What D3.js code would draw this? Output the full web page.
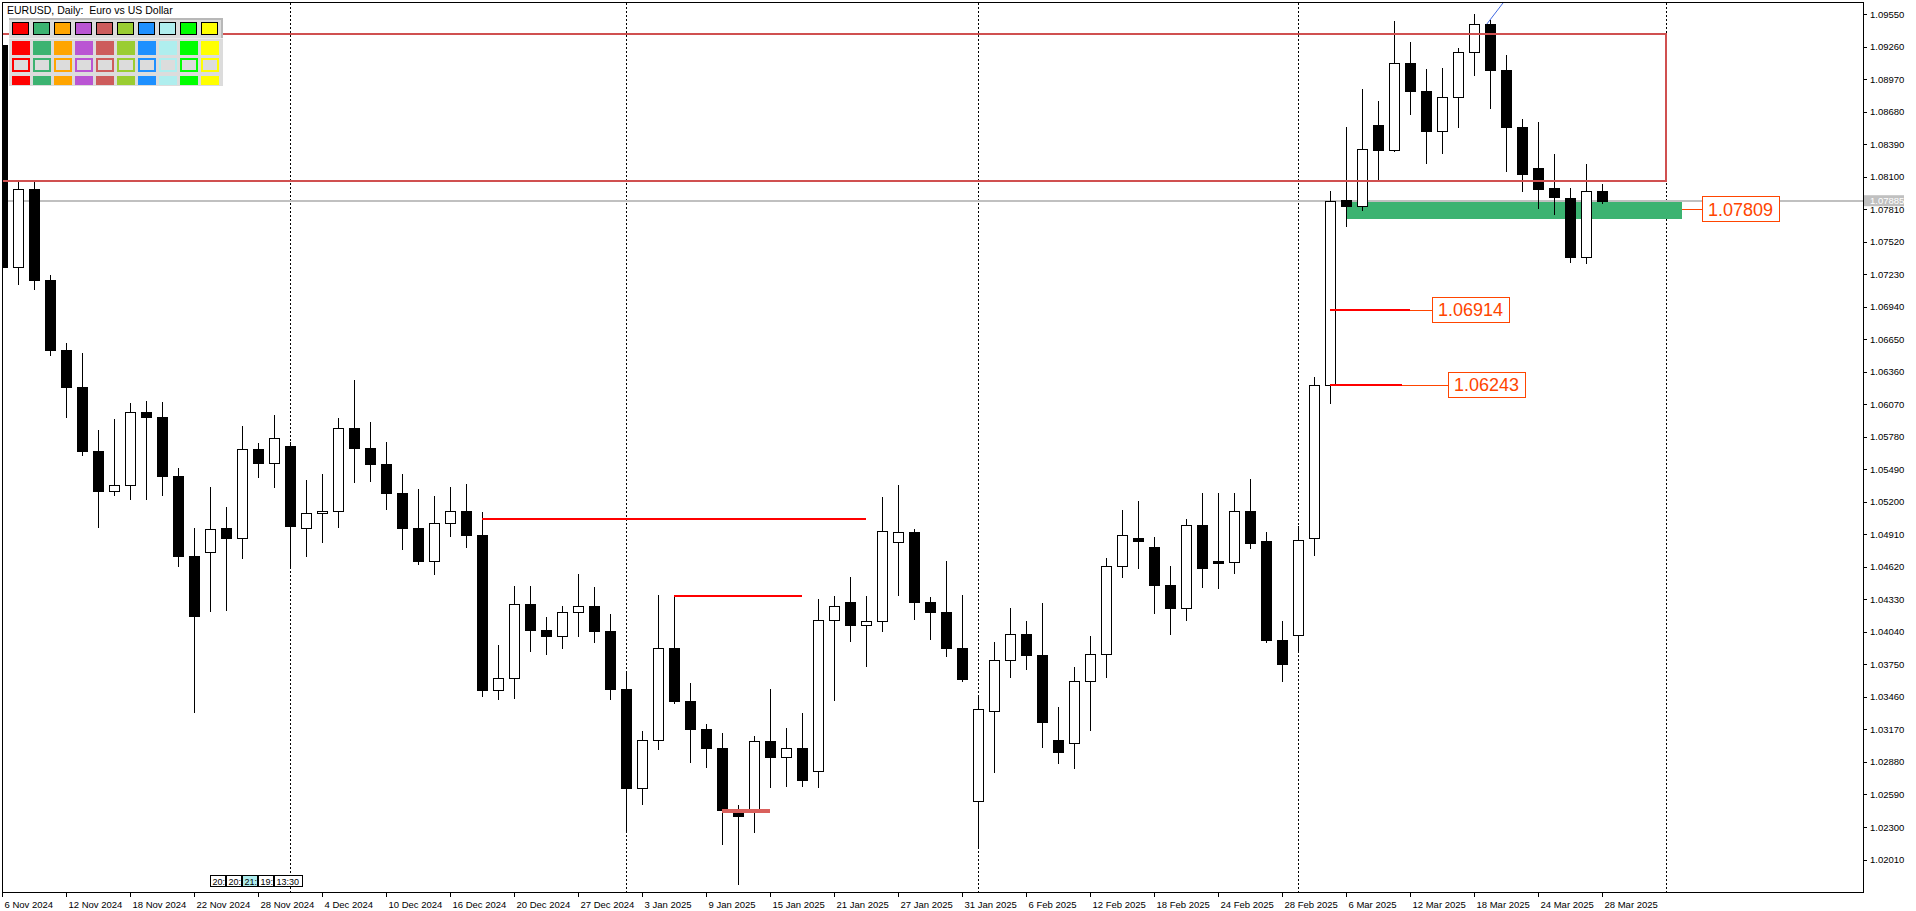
<!DOCTYPE html>
<html><head><meta charset="utf-8">
<script src="https://cdn.jsdelivr.net/npm/d3@7"></script>
<style>html,body{margin:0;padding:0;background:#fff;overflow:hidden}</style>
</head><body>
<svg id="chart" width="1916" height="911"></svg>
<script>
// ---------------- DATA ----------------
const title = "EURUSD, Daily:  Euro vs US Dollar";
const dates = ["2024-11-06","2024-11-07","2024-11-08","2024-11-11","2024-11-12","2024-11-13","2024-11-14","2024-11-15","2024-11-18","2024-11-19",
"2024-11-20","2024-11-21","2024-11-22","2024-11-25","2024-11-26","2024-11-27","2024-11-28","2024-11-29","2024-12-02","2024-12-03",
"2024-12-04","2024-12-05","2024-12-06","2024-12-09","2024-12-10","2024-12-11","2024-12-12","2024-12-13","2024-12-16","2024-12-17",
"2024-12-18","2024-12-19","2024-12-20","2024-12-23","2024-12-24","2024-12-26","2024-12-27","2024-12-30","2024-12-31","2025-01-02",
"2025-01-03","2025-01-06","2025-01-07","2025-01-08","2025-01-09","2025-01-10","2025-01-13","2025-01-14","2025-01-15","2025-01-16",
"2025-01-17","2025-01-20","2025-01-21","2025-01-22","2025-01-23","2025-01-24","2025-01-27","2025-01-28","2025-01-29","2025-01-30",
"2025-01-31","2025-02-03","2025-02-04","2025-02-05","2025-02-06","2025-02-07","2025-02-10","2025-02-11","2025-02-12","2025-02-13",
"2025-02-14","2025-02-17","2025-02-18","2025-02-19","2025-02-20","2025-02-21","2025-02-24","2025-02-25","2025-02-26","2025-02-27",
"2025-02-28","2025-03-03","2025-03-04","2025-03-05","2025-03-06","2025-03-07","2025-03-10","2025-03-11","2025-03-12","2025-03-13",
"2025-03-14","2025-03-17","2025-03-18","2025-03-19","2025-03-20","2025-03-21","2025-03-24","2025-03-25","2025-03-26","2025-03-27",
"2025-03-28"];
const openP = [1.0927,1.0729,1.0799,1.0718,1.0655,1.0622,1.0565,1.0530,1.0535,1.0600,
1.0596,1.0543,1.0472,1.0475,1.0497,1.0488,1.0567,1.0555,1.0570,1.0497,
1.0510,1.0512,1.0586,1.0568,1.0554,1.0528,1.0497,1.0467,1.0501,1.0512,
1.0490,1.0352,1.0363,1.0429,1.0406,1.0400,1.0422,1.0427,1.0405,1.0353,
1.0265,1.0308,1.0390,1.0342,1.0317,1.0300,1.0245,1.0243,1.0307,1.0292,
1.0300,1.0280,1.0415,1.0431,1.0410,1.0414,1.0484,1.0493,1.0431,1.0422,
1.0390,1.0253,1.0333,1.0379,1.0402,1.0383,1.0308,1.0305,1.0360,1.0384,
1.0463,1.0488,1.0480,1.0446,1.0425,1.0499,1.0467,1.0466,1.0512,1.0485,
1.0397,1.0401,1.0488,1.0624,1.0789,1.0784,1.0856,1.0834,1.0911,1.0886,
1.0851,1.0881,1.0921,1.0946,1.0905,1.0854,1.0818,1.0800,1.0791,1.0738,
1.0797];
const highP = [1.0937,1.0805,1.0806,1.0722,1.0662,1.0653,1.0584,1.0594,1.0608,1.0610,
1.0609,1.0550,1.0497,1.0533,1.0515,1.0588,1.0572,1.0597,1.0573,1.0539,
1.0545,1.0595,1.0629,1.0591,1.0573,1.0545,1.0531,1.0525,1.0533,1.0536,
1.0511,1.0392,1.0445,1.0445,1.0417,1.0427,1.0456,1.0444,1.0420,1.0368,
1.0316,1.0437,1.0436,1.0358,1.0322,1.0314,1.0250,1.0311,1.0353,1.0318,
1.0332,1.0433,1.0436,1.0453,1.0436,1.0524,1.0535,1.0496,1.0435,1.0467,
1.0437,1.0348,1.0395,1.0425,1.0414,1.0430,1.0337,1.0373,1.0400,1.0470,
1.0513,1.0521,1.0489,1.0463,1.0505,1.0528,1.0528,1.0528,1.0540,1.0493,
1.0414,1.0498,1.0631,1.0797,1.0854,1.0888,1.0877,1.0949,1.0930,1.0906,
1.0907,1.0925,1.0955,1.0950,1.0918,1.0861,1.0859,1.0830,1.0800,1.0821,
1.0803];
const lowP = [1.0683,1.0713,1.0709,1.0650,1.0595,1.0561,1.0497,1.0525,1.0522,1.0522,
1.0525,1.0462,1.0332,1.0422,1.0423,1.0469,1.0541,1.0532,1.0461,1.0471,
1.0483,1.0497,1.0537,1.0538,1.0513,1.0477,1.0464,1.0455,1.0489,1.0479,
1.0346,1.0343,1.0344,1.0386,1.0383,1.0389,1.0399,1.0394,1.0343,1.0226,
1.0250,1.0299,1.0340,1.0287,1.0283,1.0214,1.0178,1.0225,1.0265,1.0266,
1.0266,1.0265,1.0342,1.0395,1.0373,1.0404,1.0436,1.0415,1.0397,1.0382,
1.0359,1.0211,1.0278,1.0363,1.0370,1.0300,1.0286,1.0282,1.0316,1.0363,
1.0452,1.0460,1.0420,1.0401,1.0414,1.0443,1.0442,1.0456,1.0478,1.0394,
1.0359,1.0385,1.0472,1.0607,1.0765,1.0779,1.0805,1.0832,1.0865,1.0821,
1.0830,1.0853,1.0900,1.0870,1.0814,1.0796,1.0781,1.0776,1.0733,1.0732,
1.0786];
const closeP = [1.0729,1.0799,1.0718,1.0655,1.0622,1.0565,1.0530,1.0535,1.0600,1.0596,
1.0543,1.0472,1.0418,1.0496,1.0488,1.0567,1.0555,1.0577,1.0498,1.0510,
1.0512,1.0586,1.0568,1.0554,1.0528,1.0497,1.0467,1.0501,1.0512,1.0490,
1.0352,1.0363,1.0429,1.0406,1.0400,1.0422,1.0427,1.0405,1.0353,1.0265,
1.0308,1.0390,1.0342,1.0317,1.0300,1.0245,1.0240,1.0307,1.0292,1.0300,
1.0272,1.0415,1.0427,1.0410,1.0414,1.0494,1.0493,1.0431,1.0422,1.0390,
1.0362,1.0335,1.0379,1.0402,1.0383,1.0324,1.0297,1.0360,1.0384,1.0463,
1.0490,1.0485,1.0446,1.0425,1.0499,1.0461,1.0465,1.0512,1.0483,1.0397,
1.0375,1.0486,1.0624,1.07885,1.0784,1.0835,1.0834,1.0911,1.0886,1.0851,
1.0881,1.0921,1.0946,1.0905,1.0854,1.0812,1.0799,1.0792,1.0738,1.0797,
1.07885];
const priceTicks = [1.0955,1.0926,1.0897,1.0868,1.0839,1.0810,1.0781,1.0752,1.0723,1.0694,1.0665,1.0636,1.0607,
1.0578,1.0549,1.0520,1.0491,1.0462,1.0433,1.0404,1.0375,1.0346,1.0317,1.0288,1.0259,1.0230,1.0201];
const dateTickBars = [0,4,8,12,16,20,24,28,32,36,40,44,48,52,56,60,64,68,72,76,80,84,88,92,96,100];
const separatorBars = [18,39,61,81,104];
const bidPrice = 1.07885;
// drawn objects (time in bar index, price)
const zoneRect = {from:-3, to:104, top:1.09372, bottom:1.08063};
const greenZone = {from:84, to:105, top:1.07876, bottom:1.07722};
const hLines = [
  {from:30, to:54, price:1.05043},
  {from:42, to:50, price:1.04356}
];
const thickMark = {from:45, to:48, price:1.02446};
const priceLabels = [
  {text:"1.07809", price:1.07809, lineFrom:null, lineTo:105, boxBar:106.25},
  {text:"1.06914", price:1.06914, lineFrom:83, lineTo:88, boxBar:89.375},
  {text:"1.06243", price:1.06243, lineFrom:83, lineTo:87.5, boxBar:90.375}
];
const trendLine = [{bar:92.8, price:1.0946},{bar:94.2, price:1.0972}];
const paletteColors = ["#ff0000","#3cb371","#ffa500","#ba55d3","#cd5c5c","#9acd32","#1e90ff","#afeeee","#00ff00","#ffff00"];
const timerTexts = ["20:","20:","21:","19:","13:30"];
const timerWidths = [16,16,16,16,29];

// ---------------- CHART ----------------
const svg = d3.select("#chart");
const L = 2.5, R = 1863, T = 2.5, B = 892;
const x = d3.scaleLinear().domain([0,100]).range([2,1602]);
const y = d3.scaleLinear().domain([1.0201,1.0955]).range([859.5,14]);
const cx = i => Math.round(x(i)) + 0.5;
const py = p => Math.round(y(p)) + 0.5;
const FONT = "Liberation Sans, Arial, sans-serif";

svg.append("rect").attr("width",1916).attr("height",911).attr("fill","#fff");
svg.append("defs").append("clipPath").attr("id","clip")
  .append("rect").attr("x",L).attr("y",T).attr("width",R-L).attr("height",B-T);
const g = svg.append("g").attr("clip-path","url(#clip)").attr("shape-rendering","crispEdges");

// period separators
g.selectAll("line.sep").data(separatorBars).join("line")
  .attr("x1",d=>cx(d)).attr("x2",d=>cx(d)).attr("y1",T).attr("y2",B)
  .attr("stroke","#000").attr("stroke-dasharray","2,2");

// green zone
g.append("rect").attr("x",x(greenZone.from)).attr("width",x(greenZone.to)-x(greenZone.from))
  .attr("y",y(greenZone.top)).attr("height",y(greenZone.bottom)-y(greenZone.top)).attr("fill","#3cb371");

// bid line
g.append("line").attr("x1",L).attr("x2",R).attr("y1",y(bidPrice)).attr("y2",y(bidPrice))
  .attr("stroke","#c0c0c0").attr("stroke-width",2);

// candles
const bars = dates.map((d,i)=>({i,o:openP[i],h:highP[i],l:lowP[i],c:closeP[i]}));
g.selectAll("line.wick").data(bars).join("line")
  .attr("x1",d=>cx(d.i)).attr("x2",d=>cx(d.i)).attr("y1",d=>Math.round(y(d.h))).attr("y2",d=>Math.round(y(d.l)))
  .attr("stroke","#000");
g.selectAll("rect.body").data(bars).join("rect")
  .attr("x",d=>cx(d.i)-5).attr("width",10)
  .attr("y",d=>py(Math.max(d.o,d.c)))
  .attr("height",d=>Math.max(0,py(Math.min(d.o,d.c))-py(Math.max(d.o,d.c))))
  .attr("fill",d=>d.c>d.o?"#fff":"#000").attr("stroke","#000");

// rectangle object
g.append("rect").attr("x",x(zoneRect.from)).attr("width",x(zoneRect.to)-x(zoneRect.from))
  .attr("y",y(zoneRect.top)).attr("height",y(zoneRect.bottom)-y(zoneRect.top))
  .attr("fill","none").attr("stroke","#d05050").attr("stroke-width",2);

// horizontal red lines
g.selectAll("line.h").data(hLines).join("line")
  .attr("x1",d=>x(d.from)).attr("x2",d=>x(d.to)).attr("y1",d=>y(d.price)).attr("y2",d=>y(d.price))
  .attr("stroke","#ff0000").attr("stroke-width",2);
g.append("line").attr("x1",x(thickMark.from)).attr("x2",x(thickMark.to))
  .attr("y1",y(thickMark.price)).attr("y2",y(thickMark.price))
  .attr("stroke","#d9605c").attr("stroke-width",4);

// trend line
g.append("line").attr("x1",x(trendLine[0].bar)).attr("y1",y(trendLine[0].price))
  .attr("x2",x(trendLine[1].bar)).attr("y2",y(trendLine[1].price))
  .attr("stroke","#4169e1").attr("stroke-width",1).attr("shape-rendering","auto");

// price labels
priceLabels.forEach(p=>{
  const yy = y(p.price);
  const bx = x(p.boxBar);
  if(p.lineFrom!==null){
    g.append("line").attr("x1",x(p.lineFrom)).attr("x2",x(p.lineTo)).attr("y1",yy).attr("y2",yy)
      .attr("stroke","#ff0000").attr("stroke-width",2);
  }
  g.append("line").attr("x1",x(p.lineTo)).attr("x2",bx).attr("y1",Math.round(yy)+0.5).attr("y2",Math.round(yy)+0.5)
    .attr("stroke","#ff4500").attr("stroke-width",1);
  g.append("rect").attr("x",Math.round(bx)+0.5).attr("y",Math.round(yy-12.8)+0.5).attr("width",77).attr("height",25)
    .attr("fill","#fff").attr("stroke","#ff4500");
  g.append("text").attr("x",bx+38.5).attr("y",yy).attr("dy","0.36em").attr("text-anchor","middle")
    .attr("font-family",FONT).attr("font-size","18px").attr("fill","#ff4500")
    .text(p.text);
});

// frame
svg.append("rect").attr("x",L).attr("y",T).attr("width",R-L).attr("height",B-T)
  .attr("fill","none").attr("stroke","#000").attr("shape-rendering","crispEdges");

// right price axis
const yAxis = d3.axisRight(y).tickValues(priceTicks).tickFormat(d3.format(".5f")).tickSize(4).tickPadding(3);
const ya = svg.append("g").attr("transform",`translate(${R},0)`).call(yAxis);
ya.select(".domain").remove();
ya.selectAll("line").attr("stroke","#000").attr("shape-rendering","crispEdges");
ya.selectAll("text").attr("font-family",FONT).attr("font-size","9.5px").attr("fill","#000");

// bid label
svg.append("rect").attr("x",R+1).attr("y",y(bidPrice)-5.5).attr("width",40).attr("height",11).attr("fill","#c0c0c0");
svg.append("text").attr("x",R+7).attr("y",y(bidPrice)).attr("dy","0.34em")
  .attr("font-family",FONT).attr("font-size","9.5px").attr("fill","#fff").text(d3.format(".5f")(bidPrice));

// bottom time axis
const fmt = d3.timeFormat("%-d %b %Y"), parse = d3.timeParse("%Y-%m-%d");
const xAxis = d3.axisBottom(x).tickValues(dateTickBars).tickFormat(i=>fmt(parse(dates[i]))).tickSize(5).tickPadding(4);
const xa = svg.append("g").attr("transform",`translate(0,${B})`).call(xAxis);
xa.select(".domain").remove();
xa.selectAll("line").attr("stroke","#000").attr("shape-rendering","crispEdges");
xa.selectAll("text").attr("text-anchor","start").attr("x",2)
  .attr("font-family",FONT).attr("font-size","9.5px").attr("fill","#000");

// title
svg.append("text").attr("x",7).attr("y",13.5).style("white-space","pre")
  .attr("font-family",FONT).attr("font-size","10.5px").attr("fill","#000").text(title);

// palette panel
const pal = svg.append("g").attr("shape-rendering","crispEdges");
pal.append("rect").attr("x",8.5).attr("y",17.5).attr("width",214).attr("height",68).attr("fill","#dcdcdc");
pal.append("rect").attr("x",8.5).attr("y",17.5).attr("width",214).attr("height",2).attr("fill","#b8b8b8");
pal.append("rect").attr("x",220.5).attr("y",17.5).attr("width",2).attr("height",20).attr("fill","#b8b8b8");
pal.append("rect").attr("x",8.5).attr("y",37.5).attr("width",214).attr("height",1.5).attr("fill","#ececec");
paletteColors.forEach((c,k)=>{
  const x0 = 12 + 21*k;
  pal.append("rect").attr("x",x0+0.5).attr("y",22.5).attr("width",16).attr("height",12).attr("fill",c).attr("stroke","#000").attr("stroke-width",1.5);
  pal.append("rect").attr("x",x0).attr("y",41).attr("width",18).attr("height",14).attr("fill",c);
  pal.append("rect").attr("x",x0+1).attr("y",59).attr("width",16).attr("height",12).attr("fill","#dcdcdc").attr("stroke",c).attr("stroke-width",2);
  pal.append("rect").attr("x",x0).attr("y",76).attr("width",18).attr("height",9).attr("fill",c);
});

// countdown boxes
let tx = 210.5;
timerTexts.forEach((t,k)=>{
  svg.append("rect").attr("x",tx).attr("y",875.5).attr("width",timerWidths[k]-1).attr("height",11)
    .attr("fill",k===2?"#afeeee":"#fff").attr("stroke","#000").attr("shape-rendering","crispEdges");
  svg.append("text").attr("x",tx+2).attr("y",884.5).attr("font-family",FONT)
    .attr("font-size","9px").attr("fill","#000").text(t);
  tx += timerWidths[k];
});
</script>
</body></html>
